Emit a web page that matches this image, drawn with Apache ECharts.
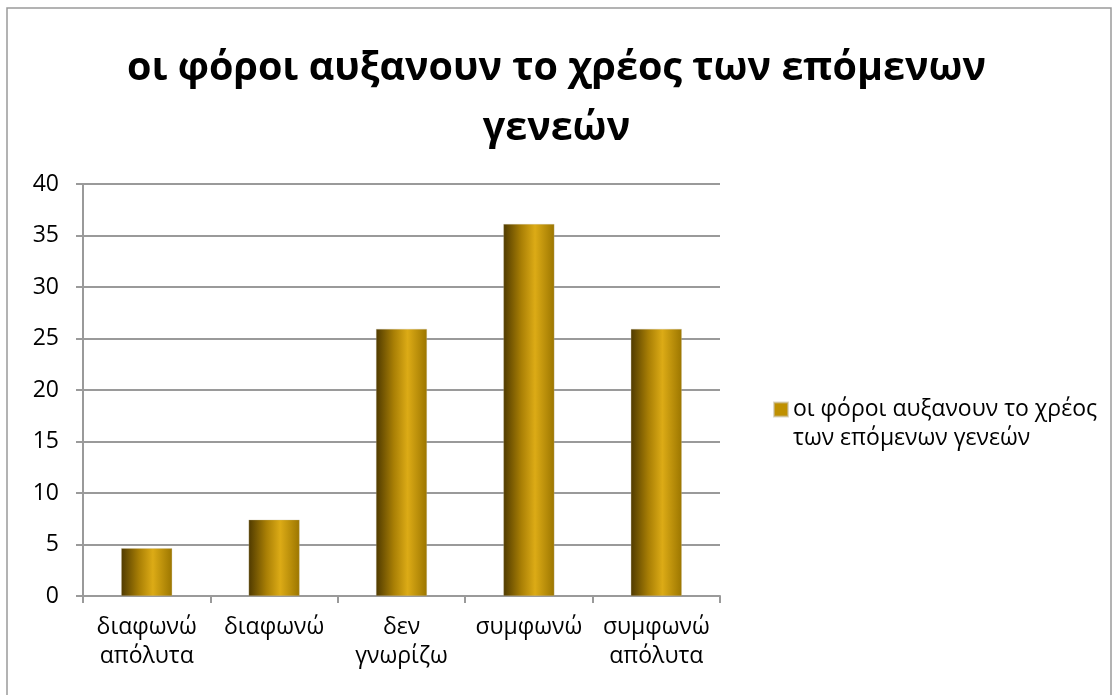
<!DOCTYPE html>
<html>
<head>
<meta charset="utf-8">
<script src="https://cdn.jsdelivr.net/npm/echarts@6/dist/echarts.min.js"></script>
<style>
  html, body { margin: 0; padding: 0; background: #fff; }
  #chart { width: 1113px; height: 695px; }
</style>
</head>
<body>
<div id="chart"></div>
<script>
// Survey answers (percent of respondents)
const titleText = 'οι φόροι αυξανουν το χρέος των επόμενων\nγενεών';
const seriesName = 'οι φόροι αυξανουν το χρέος των επόμενων γενεών';
const legendLines = ['οι φόροι αυξανουν το χρέος', 'των επόμενων γενεών'];
const categories = ['διαφωνώ\nαπόλυτα', 'διαφωνώ', 'δεν\nγνωρίζω', 'συμφωνώ', 'συμφωνώ\nαπόλυτα'];
const values = [4.63, 7.41, 25.93, 36.11, 25.93];
const yTicks = { min: 0, max: 40, interval: 5 };

const FONT = 'Open Sans';
const chart = echarts.init(document.getElementById('chart'), null, { renderer: 'canvas' });

// cylinder-like horizontal shading of the bars
const barFill = new echarts.graphic.LinearGradient(0, 0, 1, 0, [
  { offset: 0, color: '#4f3a00' },
  { offset: 0.35, color: '#a97f05' },
  { offset: 0.62, color: '#dcab16' },
  { offset: 1, color: '#9c7600' }
]);

chart.setOption({
  animation: false,
  backgroundColor: '#fff',
  graphic: [{
    type: 'rect',
    shape: { x: 7, y: 8, width: 1104, height: 720 },
    style: { fill: 'none', stroke: '#9a9a9a', lineWidth: 1.5 },
    silent: true
  }],
  title: {
    text: titleText,
    left: 'center',
    top: 34,
    textStyle: {
      fontFamily: FONT, fontWeight: 'bold', fontSize: 39.5,
      lineHeight: 60, color: '#000'
    }
  },
  legend: {
    left: 768,
    top: 361,
    orient: 'vertical',
    icon: 'rect',
    itemWidth: 14,
    itemHeight: 14,
    // leading blank line keeps the swatch level with the first text line
    formatter: () => '\n' + legendLines.join('\n'),
    textStyle: {
      fontFamily: FONT, fontSize: 23, lineHeight: 29, color: '#000'
    },
    data: [{ name: seriesName, itemStyle: { color: '#bf9000' } }]
  },
  grid: { left: 83, right: 393, top: 184, bottom: 99 },
  xAxis: {
    type: 'category',
    data: categories,
    axisLine: { lineStyle: { color: '#9a9a9a', width: 2 } },
    axisTick: { show: true, length: 7, lineStyle: { color: '#9a9a9a', width: 2 } },
    axisLabel: {
      fontFamily: FONT, fontSize: 23, lineHeight: 29, color: '#000',
      margin: 17, interval: 0
    }
  },
  yAxis: {
    type: 'value',
    min: yTicks.min, max: yTicks.max, interval: yTicks.interval,
    axisLine: { show: true, lineStyle: { color: '#9a9a9a', width: 2 } },
    axisTick: { show: true, length: 7, lineStyle: { color: '#9a9a9a', width: 2 } },
    splitLine: { lineStyle: { color: '#9a9a9a', width: 2 } },
    axisLabel: { fontFamily: FONT, fontSize: 23, color: '#000', margin: 24 }
  },
  series: [{
    name: seriesName,
    type: 'bar',
    data: values,
    barWidth: '40%',
    itemStyle: { color: barFill, borderColor: 'rgba(200,190,160,0.6)', borderWidth: 0.5 }
  }]
});
</script>
</body>
</html>
